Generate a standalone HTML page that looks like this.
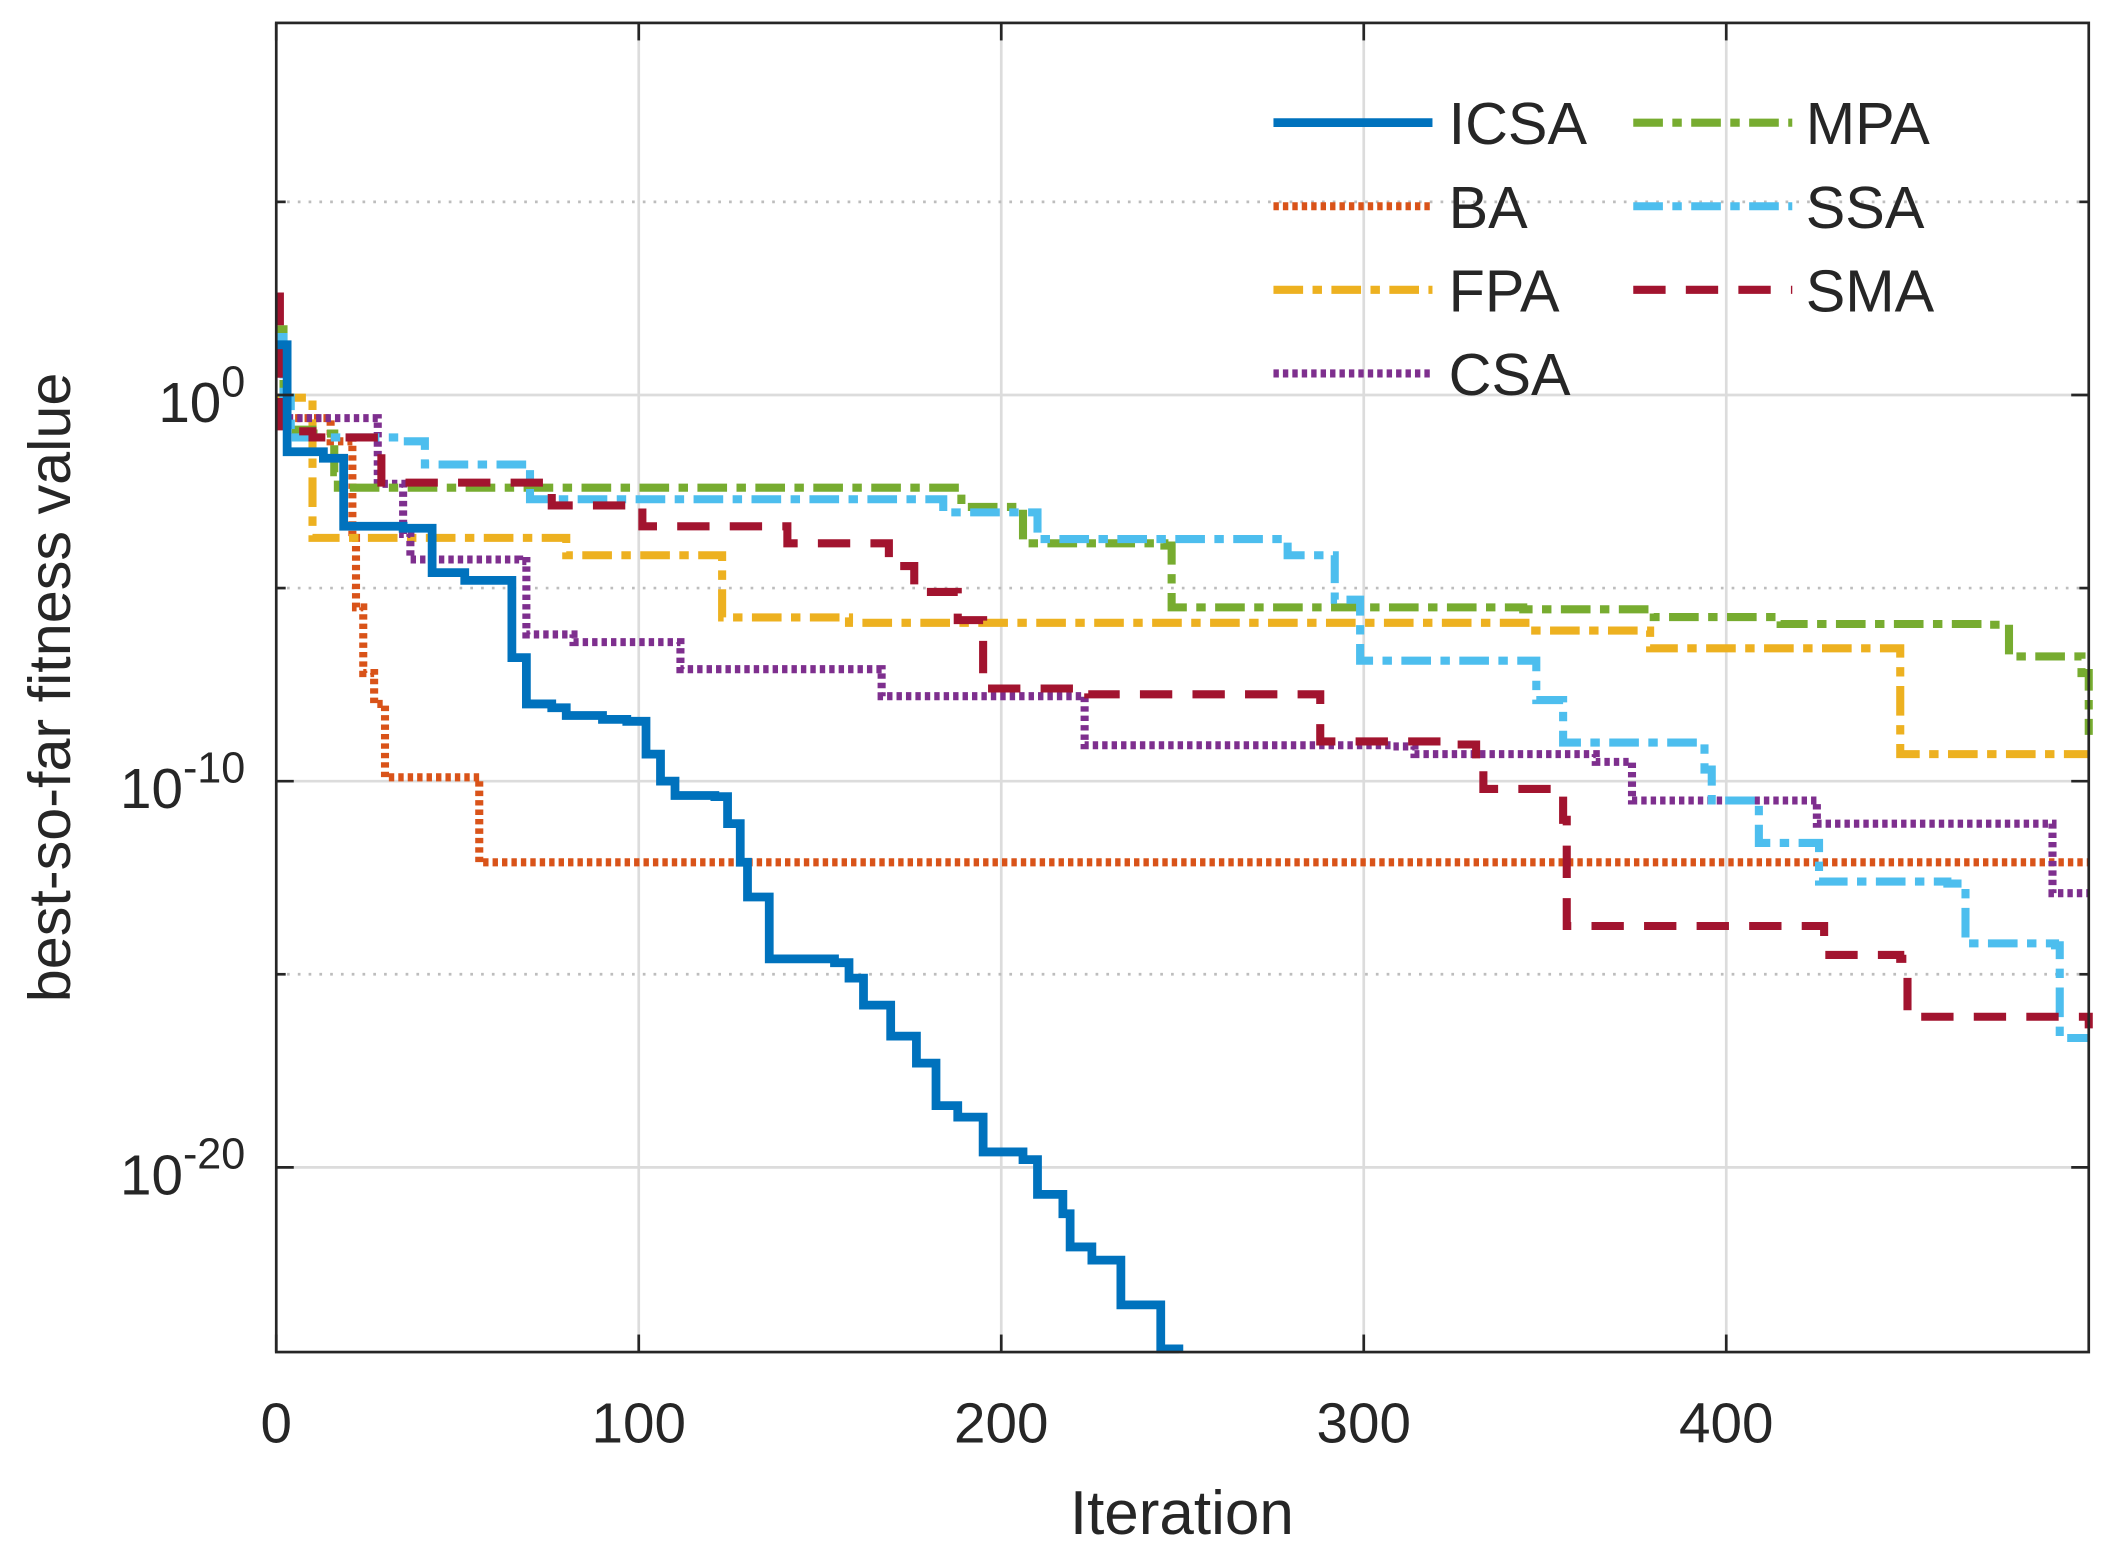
<!DOCTYPE html>
<html><head><meta charset="utf-8"><style>
html,body{margin:0;padding:0;background:#fff}
svg{display:block}
text{font-family:"Liberation Sans",Arial,sans-serif;fill:#262626}
</style></head><body>
<svg id="chart" width="2113" height="1561" viewBox="0 0 1568 1158" preserveAspectRatio="none" xmlns="http://www.w3.org/2000/svg">
<rect x="0" y="0" width="1568" height="1158" fill="#fff"/>
<g id="grid"></g>
<g id="series"></g>
<rect x="205" y="17" width="1345" height="986" fill="none" stroke="#262626" stroke-width="2"/>
<g id="ticks"></g>
<text x="877" y="1138" font-size="46" text-anchor="middle">Iteration</text>
<text transform="translate(52,510) rotate(-90)" font-size="44" text-anchor="middle">best-so-far fitness value</text>
<g id="legend"></g>
</svg>
<script>
const xTicks=[0,100,200,300,400];
const yMajor=[0,-10,-20];
const yMinor=[5,-5,-15];
const names=["ICSA","BA","FPA","CSA","MPA","SSA","SMA"];
const icsaIt=[0,3,13,18.6,35,43,52,65,69,76,80,90,96.7,102,106,110,121,124.5,128,130,136,154,158,162,169.5,176.6,182,188,195,206,210,217,219,225,233,244,249];
const icsaE=[1.3,-1.47,-1.64,-3.4,-3.45,-4.6,-4.8,-6.8,-8.0,-8.1,-8.3,-8.4,-8.45,-9.3,-10.0,-10.37,-10.4,-11.1,-12.1,-13.0,-14.6,-14.7,-15.1,-15.8,-16.6,-17.3,-18.4,-18.7,-19.6,-19.8,-20.7,-21.2,-22.06,-22.4,-23.56,-24.7,-24.8];
const baIt=[0,15,21,22,24,27,30,56,500];
const baE=[-0.6,-1.2,-3.7,-5.5,-7.2,-8,-9.9,-12.1,-12.1];
const fpaIt=[0,10,80,123,158,346,379,448,500];
const fpaE=[-0.07,-3.7,-4.15,-5.76,-5.9,-6.1,-6.56,-9.3,-9.3];
const csaIt=[0,3,28,35,37,67,69,82,110,111.5,165,167,221,223,308,314,364,374,424,425,489,490,500];
const csaE=[1.3,-0.6,-2.3,-3.6,-4.26,-4.3,-6.2,-6.4,-6.4,-7.1,-7.1,-7.8,-7.8,-9.07,-9.1,-9.3,-9.5,-10.5,-10.5,-11.1,-11.1,-12.9,-12.9];
const mpaIt=[0,2,10,16,17,188,189,206,245,247,344,380,415,472,478,498,500];
const mpaE=[1.7,-0.9,-1.0,-2.0,-2.4,-2.4,-2.9,-3.84,-3.9,-5.5,-5.55,-5.75,-5.93,-5.95,-6.77,-7.2,-8.8];
const ssaIt=[0,2,4,35,41,69,70,180,184,208,210,273,279,290,292,297,299,346,347.6,355,385,394,396,407,409,424,425.6,461,466,490.7,492,500];
const ssaE=[1.5,-0.07,-1.1,-1.2,-1.8,-1.8,-2.7,-2.7,-3.04,-3.04,-3.73,-3.73,-4.15,-4.15,-5.3,-5.3,-6.88,-6.88,-7.9,-9.0,-9.0,-9.7,-10.5,-10.5,-11.6,-11.6,-12.6,-12.65,-14.2,-14.25,-16.65,-16.65];
const smaIt=[0,1,10,28,29,76,101,139,141,167,169,176,188,195,221,224,286,288,323,331,333,355,356,425,427,448,450,500];
const smaE=[2.55,-0.94,-1.1,-1.1,-2.27,-2.86,-3.4,-3.4,-3.84,-3.84,-4.43,-5.1,-5.83,-7.6,-7.6,-7.75,-7.75,-8.97,-9.05,-9.6,-10.2,-11.0,-13.75,-13.75,-14.5,-14.6,-16.1,-16.4];

const X0=205,X1=1550,Y0=17,Y1=1003;
const xs=v=>X0+(v/500)*(X1-X0);
const ys=e=>293-e*28.65;
const NS="http://www.w3.org/2000/svg";
function mk(tag,attrs,parent){const el=document.createElementNS(NS,tag);for(const k in attrs)el.setAttribute(k,attrs[k]);parent.appendChild(el);return el;}
const grid=document.getElementById('grid'),ticks=document.getElementById('ticks'),series=document.getElementById('series'),legend=document.getElementById('legend');
xTicks.forEach(t=>{
  if(t>0){const g=mk('line',{x1:xs(t),x2:xs(t),y1:Y0,y2:Y1,stroke:'#dcdcdc','stroke-width':2},grid);
  
  }
  mk('line',{x1:xs(t),x2:xs(t),y1:Y1,y2:Y1-13,stroke:'#262626','stroke-width':2},ticks);
  mk('line',{x1:xs(t),x2:xs(t),y1:Y0,y2:Y0+13,stroke:'#262626','stroke-width':2},ticks);
  const l=mk('text',{x:xs(t),y:1070,'font-size':42,'text-anchor':'middle'},ticks);l.textContent=t;
  
  
});
yMajor.forEach(e=>{
  const g=mk('line',{x1:X0,x2:X1,y1:ys(e),y2:ys(e),stroke:'#dcdcdc','stroke-width':2},grid);
  
  
  mk('line',{x1:X0,x2:X0+13,y1:ys(e),y2:ys(e),stroke:'#262626','stroke-width':2},ticks);
  mk('line',{x1:X1,x2:X1-13,y1:ys(e),y2:ys(e),stroke:'#262626','stroke-width':2},ticks);
  const l=mk('text',{x:182,y:ys(e)+20,'font-size':42,'text-anchor':'end'},ticks);
  
  
  l.innerHTML='10<tspan dy="-19" font-size="32">'+e+'</tspan>';
});
yMinor.forEach(e=>{
  const g=mk('line',{x1:X0,x2:X1,y1:ys(e),y2:ys(e),stroke:'#bdbdbd','stroke-width':2,'stroke-dasharray':'2,6'},grid);
  
  
  mk('line',{x1:X0,x2:X0+7,y1:ys(e),y2:ys(e),stroke:'#262626','stroke-width':2},ticks);
  mk('line',{x1:X1,x2:X1-7,y1:ys(e),y2:ys(e),stroke:'#262626','stroke-width':2},ticks);
});
const styles={
 ICSA:{c:'#0072BD',d:'',w:6.5,it:icsaIt,e:icsaE},
 BA:{c:'#D95319',d:'4,3',w:6,it:baIt,e:baE},
 FPA:{c:'#EDB120',d:'22,7,7,7',w:6,it:fpaIt,e:fpaE},
 CSA:{c:'#7E2F8E',d:'4,3',w:6,it:csaIt,e:csaE},
 MPA:{c:'#77AC30',d:'22,7,7,7',w:6,it:mpaIt,e:mpaE},
 SSA:{c:'#4DBEEE',d:'22,7,7,7',w:6,it:ssaIt,e:ssaE},
 SMA:{c:'#A2142F',d:'24,15',w:6,it:smaIt,e:smaE}
};
['BA','FPA','CSA','MPA','SSA','SMA','ICSA'].forEach(n=>{
  const s=styles[n];let d='';
  for(let i=0;i<s.it.length;i++){
    const x=xs(s.it[i]),y=Math.min(ys(s.e[i]),Y1);
    if(i===0)d='M'+x+','+y;else{d+=' L'+x+','+Math.min(ys(s.e[i-1]),Y1)+' L'+x+','+y;}
  }
  const p=mk('path',{d:d,fill:'none',stroke:s.c,'stroke-width':s.w,'stroke-dasharray':s.d},series);
  
  
});
names.forEach((n,i)=>{
  const s=styles[n];const col=i<4?0:1;const row=i<4?i:i-4;
  const lx=col?1212:945,tx=col?1340:1075,y=91+row*62;
  const g=mk('g',{},legend);
  
  
  mk('line',{x1:lx,x2:lx+118,y1:y,y2:y,stroke:s.c,'stroke-width':s.w,'stroke-dasharray':s.d},g);
  const t=mk('text',{x:tx,y:y+16,'font-size':44},g);t.textContent=n;
});
</script>
</body></html>
